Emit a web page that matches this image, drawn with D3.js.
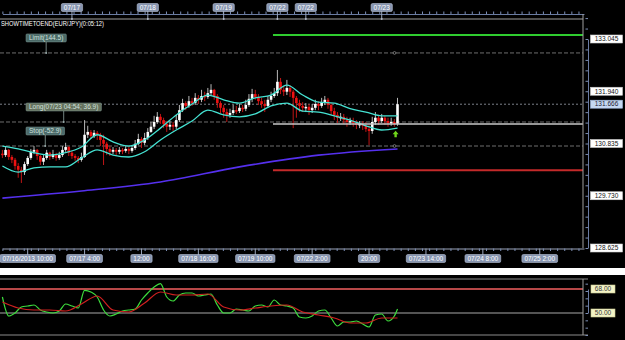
<!DOCTYPE html>
<html>
<head>
<meta charset="utf-8">
<style>
  html, body { margin: 0; padding: 0; background: #000; }
  svg { display: block; }
</style>
</head>
<body>
<div id="chart"></div>
<script src="https://cdn.jsdelivr.net/npm/d3@7"></script>
<script>
const w = 625;
const h = 340;

//EUR/JPY hourly bars, bar 0 is 07/16 early morning, last bar is 07/23 05:00
const firstOpen = 130.62;
const closes = [
  130.59, 130.70, 130.55, 130.49, 130.36, 130.28, 130.23, 130.40, 130.53, 130.66,
  130.70, 130.57, 130.45, 130.53, 130.64, 130.55, 130.61, 130.53, 130.59, 130.70,
  130.76, 130.64, 130.57, 130.53, 130.49, 130.55, 131.02, 131.08, 130.99, 131.06,
  131.02, 130.91, 130.83, 130.72, 130.66, 130.70, 130.66, 130.70, 130.68, 130.72,
  130.68, 130.74, 130.83, 130.93, 130.85, 130.95, 131.08, 131.19, 131.29, 131.40,
  131.33, 131.25, 131.19, 131.23, 131.19, 131.33, 131.54, 131.69, 131.63, 131.73,
  131.69, 131.80, 131.76, 131.84, 131.82, 131.90, 131.97, 131.84, 131.69, 131.59,
  131.50, 131.44, 131.48, 131.54, 131.52, 131.59, 131.57, 131.65, 131.78, 131.88,
  131.82, 131.73, 131.67, 131.63, 131.76, 131.84, 131.90, 132.14, 131.97, 131.93,
  132.01, 131.93, 131.80, 131.69, 131.63, 131.59, 131.61, 131.54, 131.59, 131.67,
  131.63, 131.71, 131.76, 131.65, 131.52, 131.44, 131.38, 131.40, 131.33, 131.29,
  131.31, 131.27, 131.23, 131.25, 131.21, 131.14, 131.10, 131.29, 131.38, 131.31,
  131.38, 131.31, 131.27, 131.29, 131.25, 131.666
];
const highs = [
  130.70, 130.76, 130.72, 130.59, 130.53, 130.42, 130.34, 130.45, 130.57, 130.72,
  130.78, 130.72, 130.59, 130.59, 130.70, 130.66, 130.70, 130.64, 130.66, 130.78,
  130.85, 130.78, 130.68, 130.61, 130.57, 130.64, 131.33, 131.21, 131.12, 131.12,
  131.10, 131.06, 131.02, 130.87, 130.78, 130.76, 130.74, 130.76, 130.74, 130.78,
  130.76, 130.80, 130.91, 131.04, 130.97, 131.06, 131.16, 131.29, 131.42, 131.50,
  131.46, 131.38, 131.31, 131.31, 131.29, 131.44, 131.65, 131.78, 131.73, 131.84,
  131.80, 131.90, 131.86, 131.97, 131.93, 132.01, 132.09, 131.99, 131.88, 131.73,
  131.65, 131.57, 131.57, 131.65, 131.63, 131.67, 131.65, 131.76, 131.88, 131.99,
  131.97, 131.88, 131.80, 131.76, 131.84, 131.93, 132.01, 132.39, 132.22, 132.05,
  132.18, 132.07, 131.97, 131.84, 131.76, 131.71, 131.69, 131.67, 131.67, 131.76,
  131.73, 131.80, 131.84, 131.80, 131.69, 131.59, 131.50, 131.48, 131.46, 131.40,
  131.38, 131.38, 131.33, 131.31, 131.31, 131.29, 131.23, 131.40, 131.50, 131.44,
  131.46, 131.42, 131.38, 131.38, 131.35, 131.80
];
const lows = [
  130.53, 130.55, 130.49, 130.42, 130.28, 130.11, 130.00, 130.17, 130.36, 130.49,
  130.61, 130.49, 130.38, 130.38, 130.49, 130.49, 130.51, 130.47, 130.49, 130.55,
  130.66, 130.57, 130.51, 130.47, 130.42, 130.45, 130.53, 130.95, 130.93, 130.95,
  130.91, 130.78, 130.38, 130.59, 130.57, 130.61, 130.59, 130.61, 130.61, 130.64,
  130.61, 130.64, 130.70, 130.80, 130.74, 130.80, 130.91, 131.06, 131.14, 131.25,
  131.25, 131.16, 131.08, 131.12, 131.10, 131.14, 131.29, 131.50, 131.54, 131.59,
  131.63, 131.65, 131.67, 131.71, 131.73, 131.78, 131.84, 131.76, 131.59, 131.48,
  131.38, 131.29, 131.38, 131.44, 131.46, 131.48, 131.50, 131.52, 131.61, 131.71,
  131.76, 131.65, 131.59, 131.50, 131.59, 131.71, 131.80, 131.84, 131.88, 131.84,
  131.86, 131.82, 131.16, 131.38, 131.50, 131.50, 131.50, 131.44, 131.48, 131.54,
  131.54, 131.59, 131.65, 131.57, 131.44, 131.33, 131.27, 131.31, 131.25, 131.19,
  131.23, 131.19, 131.14, 131.16, 131.12, 131.08, 130.80, 131.04, 131.23, 131.23,
  131.27, 131.23, 131.19, 131.21, 131.19, 131.21
];

//envelope bands, one value every 5 bars
const bandStep = 5;
const bandUpper = [130.78, 130.72, 130.64, 130.59, 130.64, 130.76, 131.02, 130.87, 130.78, 130.91, 131.16, 131.44, 131.67,
  131.86, 131.76, 131.69, 131.80, 131.86, 132.07, 131.86, 131.71, 131.69, 131.57, 131.50, 131.42, 131.42];
const bandLower = [130.36, 130.23, 130.32, 130.34, 130.34, 130.53, 130.70, 130.59, 130.55, 130.66, 130.91, 131.12, 131.31,
  131.54, 131.44, 131.40, 131.46, 131.63, 131.69, 131.52, 131.50, 131.42, 131.33, 131.21, 131.12, 131.16];

//slow moving average, one value every 25 bars
const maStep = 25;
const maValues = [129.68, 129.83, 130.02, 130.34, 130.59, 130.72];

//RSI panel
const rsiFastStep = 2;
const rsiFast = [
  62.0, 47.75, 50.0, 54.5, 55.25, 56.0, 52.25, 50.75, 50.0, 51.5,
  56.75, 55.25, 53.75, 67.0, 65.75, 62.0, 52.25, 47.75, 49.25, 51.5,
  52.25, 53.0, 59.75, 65.0, 69.5, 72.0, 62.0, 59.0, 63.5, 65.0,
  65.0, 62.75, 63.5, 64.25, 56.0, 50.0, 50.0, 53.0, 52.25, 51.5,
  55.25, 56.0, 54.5, 59.75, 56.0, 55.25, 53.75, 47.0, 46.25, 47.75,
  51.5, 52.25, 46.25, 40.25, 43.25, 43.25, 44.0, 41.75, 39.5, 48.5,
  49.25, 44.0, 47.75, 53.0
];
const rsiSlowStep = 5;
const rsiSlow = [58.25, 53.75, 52.25, 52.25, 51.5, 56.75, 62.75, 52.25, 50.75, 57.5, 65.75, 63.5, 63.5,
  64.25, 54.5, 52.25, 53.75, 55.25, 56.0, 50.75, 48.5, 46.25, 42.5, 42.5, 46.25, 46.25];
const rsiLevels = [68, 50];
const rsiLabels = ["68.00", "50.00"];

//axes
const priceTicks = [133.045, 131.94, 130.835, 129.73, 128.625];
const priceTickLabels = ["133.045", "131.940", "130.835", "129.730", "128.625"];
const lastPrice = 131.666;
const lastPriceLabel = "131.666";

const topTickBars = [22, 46, 70, 87, 96, 120];
const topTickLabels = ["07/17", "07/18", "07/19", "07/22", "07/22", "07/23"];
const bottomTickBars = [8, 26, 44, 62, 80, 98, 116, 134, 152, 170];
const bottomTickLabels = ["07/16/2013 10:00", "07/17 4:00", "12:00", "07/18 16:00", "07/19 10:00",
  "07/22 2:00", "20:00", "07/23 14:00", "07/24 8:00", "07/25 2:00"];

//open order
const orderStartBar = 85.6;
const takeProfit = 133.13;
const stopLoss = 130.27;
const openLevel = 131.25;
const tagTexts = ["Limit(144.5)", "Long(07/23 04:54; 36.9)", "Stop(-52.9)"];
const tagLevels = [132.75, 131.29, 130.782];

const title = "SHOWTIMETOEND(EUR/JPY)(0:05:12)";

const font = "'Liberation Sans', Arial, sans-serif";

//Handle SVG and d3
const createChart = () => {
  const svg = d3.select("#chart").append("svg").attr("width", w).attr("height", h);
  svg.append("rect").attr("width", w).attr("height", h).attr("fill", "#000");

  const plotRight = 583;
  const x = d3.scaleLinear().domain([0, 184]).range([2.4, 584]);
  const y = d3.scaleLinear().domain([128.625, 133.045]).range([248, 39]);
  const yRsi = d3.scaleLinear().domain([50, 68]).range([313, 289]);

  const lastBar = closes.length - 1;

  //small rounded label box, text centred on cx
  const boxLabel = (cx, cy, text, style) => {
    const g = svg.append("g");
    const rect = g.append("rect");
    const t = g
      .append("text")
      .attr("x", cx)
      .attr("y", cy)
      .attr("dy", "0.35em")
      .attr("text-anchor", "middle")
      .attr("font-family", font)
      .attr("font-size", style.size || 6.5)
      .attr("fill", style.color)
      .text(text);
    const bw = style.width || t.node().getComputedTextLength() + (style.pad || 5);
    rect
      .attr("x", cx - bw / 2)
      .attr("y", cy - 4)
      .attr("width", bw)
      .attr("height", 8)
      .attr("rx", style.rx === undefined ? 1.5 : style.rx)
      .attr("fill", style.fill)
      .attr("stroke", style.stroke || "none")
      .attr("stroke-width", 0.6);
    return bw;
  };

  //Top date axis
  const minorTicks = d3.range(0, 184, 2.25);
  svg
    .append("g")
    .attr("transform", "translate(0, 14)")
    .call(d3.axisTop(x).tickValues(minorTicks).tickSize(2.5).tickSizeOuter(0).tickFormat(""))
    .call((g) => g.select(".domain").attr("stroke", "#6a7ca3"))
    .call((g) => g.selectAll(".tick line").attr("stroke", "#7d8fb5"));
  svg.append("line").attr("x1", 0).attr("x2", plotRight).attr("y1", 19).attr("y2", 19)
    .attr("stroke", "#a0a0a0");
  topTickBars.forEach((b, k) => {
    svg.append("line").attr("x1", x(b)).attr("x2", x(b)).attr("y1", 11).attr("y2", 19)
      .attr("stroke", "#9aa6bd");
    svg.append("circle").attr("cx", x(b)).attr("cy", 19).attr("r", 1).attr("fill", "#b0b8c8");
    boxLabel(x(b), 7.5, topTickLabels[k], { fill: "#8795b0", stroke: "#b9c3d6", color: "#fff" });
  });

  svg
    .append("text")
    .attr("x", 1)
    .attr("y", 26)
    .attr("font-family", font)
    .attr("font-size", 7)
    .attr("fill", "#fff")
    .attr("textLength", 103)
    .attr("lengthAdjust", "spacingAndGlyphs")
    .text(title);

  //Order level lines
  const dashed = [tagLevels[0], lastPrice, tagLevels[1], tagLevels[2]];
  dashed.forEach((lv, k) => {
    svg.append("line").attr("x1", 0).attr("x2", plotRight).attr("y1", y(lv)).attr("y2", y(lv))
      .attr("stroke", k === 1 ? "#8a8f9a" : "#7a7a7a")
      .attr("stroke-width", 0.9)
      .attr("stroke-dasharray", k === 1 ? "2,2" : "4,2");
  });

  const plot = svg.append("g");
  svg.append("clipPath").attr("id", "clip").append("rect")
    .attr("x", 0).attr("y", 19).attr("width", plotRight).attr("height", 229);
  plot.attr("clip-path", "url(#clip)");

  //Moving average
  plot
    .append("path")
    .datum(maValues)
    .attr("fill", "none")
    .attr("stroke", "#5530ee")
    .attr("stroke-width", 1.6)
    .attr("d", d3.line().x((d, k) => x(k * maStep)).y((d) => y(d)).curve(d3.curveMonotoneX));

  //Candles
  const bars = closes.map((c, i) => ({
    i,
    o: i === 0 ? firstOpen : closes[i - 1],
    c,
    hi: highs[i],
    lo: lows[i],
  }));
  const up = (d) => d.c >= d.o;

  plot
    .selectAll(".wick")
    .data(bars)
    .enter()
    .append("line")
    .attr("class", "wick")
    .attr("x1", (d) => x(d.i))
    .attr("x2", (d) => x(d.i))
    .attr("y1", (d) => y(d.hi))
    .attr("y2", (d) => y(d.lo))
    .attr("stroke", (d) => (up(d) ? "#b8b8b8" : "#c01515"))
    .attr("stroke-width", 1);

  plot
    .selectAll(".body")
    .data(bars)
    .enter()
    .append("rect")
    .attr("class", "body")
    .attr("x", (d) => x(d.i) - 1.3)
    .attr("y", (d) => y(Math.max(d.o, d.c)))
    .attr("width", 2.6)
    .attr("height", (d) => Math.max(1.5, Math.abs(y(d.o) - y(d.c))))
    .attr("fill", (d) => (up(d) ? "#ffffff" : "#ee1111"));

  //Envelope bands
  const bandLine = d3.line().x((d, k) => x(k * bandStep)).y((d) => y(d)).curve(d3.curveMonotoneX);
  [bandUpper, bandLower].forEach((band) => {
    plot.append("path").datum(band).attr("fill", "none").attr("stroke", "#45e2d2")
      .attr("stroke-width", 1.3).attr("d", bandLine);
  });

  //Take profit / stop loss / open lines
  const ox = x(orderStartBar);
  svg.append("line").attr("x1", ox).attr("x2", plotRight).attr("y1", y(takeProfit)).attr("y2", y(takeProfit))
    .attr("stroke", "#2fcc2f").attr("stroke-width", 1.8);
  svg.append("line").attr("x1", ox).attr("x2", plotRight).attr("y1", y(stopLoss)).attr("y2", y(stopLoss))
    .attr("stroke", "#c42a2a").attr("stroke-width", 2);
  svg.append("line").attr("x1", ox).attr("x2", plotRight).attr("y1", y(openLevel)).attr("y2", y(openLevel))
    .attr("stroke", "#c8c8c8").attr("stroke-width", 1.5);

  [tagLevels[0], tagLevels[2]].forEach((lv) => {
    svg.append("circle").attr("cx", x(lastBar) - 3).attr("cy", y(lv)).attr("r", 1.4)
      .attr("fill", "#000").attr("stroke", "#999").attr("stroke-width", 0.7);
  });

  //Entry arrow
  const ax = x(lastBar - 0.6);
  const ay = y(lows[lastBar]) + 5;
  svg.append("path")
    .attr("d", `M${ax - 3},${ay + 3.5} L${ax},${ay} L${ax + 3},${ay + 3.5} L${ax + 1.2},${ay + 3.5} L${ax + 1.2},${ay + 6.5} L${ax - 1.2},${ay + 6.5} L${ax - 1.2},${ay + 3.5} Z`)
    .attr("fill", "#6fd41a");

  //Order tags on the left
  const tagFills = ["#4b6a67", "#66725f", "#4b6a6a"];
  tagTexts.forEach((t, k) => {
    const lineY = y(tagLevels[k]);
    const cy = lineY - 15;
    const g = svg.append("g");
    const rect = g.append("rect");
    const txt = g.append("text").attr("x", 29).attr("y", cy).attr("dy", "0.35em")
      .attr("font-family", font).attr("font-size", 6.5).attr("fill", "#cfe0dc").text(t);
    const bw = txt.node().getComputedTextLength() + 6;
    rect.attr("x", 26).attr("y", cy - 4).attr("width", bw).attr("height", 8).attr("rx", 1)
      .attr("fill", tagFills[k]).attr("stroke", "#7f9a96").attr("stroke-width", 0.5);
    g.append("line").attr("x1", 26 + bw / 2).attr("x2", 26 + bw / 2).attr("y1", cy + 4).attr("y2", lineY)
      .attr("stroke", "#8fa3a0").attr("stroke-width", 0.8);
    g.append("circle").attr("cx", 26 + bw / 2).attr("cy", lineY).attr("r", 1).attr("fill", "#9aa");
  });

  //Right price axis
  svg.append("line").attr("x1", plotRight).attr("x2", plotRight).attr("y1", 14).attr("y2", 248)
    .attr("stroke", "#a0a0a0");
  svg
    .append("g")
    .attr("transform", "translate(588, 0)")
    .call(d3.axisLeft(y).tickValues(d3.range(128.625, 133.5, 0.221)).tickSize(2.5).tickSizeOuter(0).tickFormat(""))
    .call((g) => g.select(".domain").attr("stroke", "#6a7ca3"))
    .call((g) => g.selectAll(".tick line").attr("stroke", "#7d8fb5"));

  priceTicks.forEach((p, k) => {
    boxLabel(606.5, y(p), priceTickLabels[k], { fill: "#fff", stroke: "#ccc", color: "#111", width: 32, rx: 0 });
  });
  boxLabel(606.5, y(lastPrice), lastPriceLabel, { fill: "#c5d8f2", stroke: "#9fb6da", color: "#223", width: 32, rx: 0 });

  //Bottom time axis
  svg
    .append("g")
    .attr("transform", "translate(0, 248.5)")
    .call(d3.axisBottom(x).tickValues(minorTicks).tickSize(2.5).tickSizeOuter(0).tickFormat(""))
    .call((g) => g.select(".domain").attr("stroke", "#9aa3b8"))
    .call((g) => g.selectAll(".tick line").attr("stroke", "#7d8fb5"));
  bottomTickBars.forEach((b, k) => {
    svg.append("line").attr("x1", x(b)).attr("x2", x(b)).attr("y1", 248.5).attr("y2", 255)
      .attr("stroke", "#9aa6bd");
    boxLabel(x(b), 258.5, bottomTickLabels[k], { fill: "#8795b0", stroke: "#b9c3d6", color: "#fff" });
  });

  //Separator between panels
  svg.append("rect").attr("x", 0).attr("y", 268).attr("width", w).attr("height", 7).attr("fill", "#fff");

  //RSI panel
  [279, 335].forEach((yy) => {
    svg.append("line").attr("x1", 0).attr("x2", 588).attr("y1", yy).attr("y2", yy).attr("stroke", "#8c8c8c");
  });
  svg.append("line").attr("x1", 0).attr("x2", plotRight).attr("y1", yRsi(rsiLevels[0])).attr("y2", yRsi(rsiLevels[0]))
    .attr("stroke", "#b84848").attr("stroke-width", 1.8);
  svg.append("line").attr("x1", 0).attr("x2", plotRight).attr("y1", yRsi(rsiLevels[1])).attr("y2", yRsi(rsiLevels[1]))
    .attr("stroke", "#a8a8a8").attr("stroke-width", 1);
  svg.append("line").attr("x1", plotRight).attr("x2", plotRight).attr("y1", 279).attr("y2", 335)
    .attr("stroke", "#a0a0a0");
  svg
    .append("g")
    .attr("transform", "translate(588, 0)")
    .call(d3.axisLeft(yRsi).tickValues(d3.range(33.5, 76, 5.5)).tickSize(2.5).tickSizeOuter(0).tickFormat(""))
    .call((g) => g.select(".domain").attr("stroke", "#6a7ca3"))
    .call((g) => g.selectAll(".tick line").attr("stroke", "#7d8fb5"));

  const rsiPanel = svg.append("g");
  rsiPanel
    .append("path")
    .datum(rsiFast)
    .attr("fill", "none")
    .attr("stroke", "#3ddc3d")
    .attr("stroke-width", 1.2)
    .attr("d", d3.line().x((d, k) => x(Math.min(k * rsiFastStep, lastBar))).y((d) => yRsi(d)).curve(d3.curveMonotoneX));
  rsiPanel
    .append("path")
    .datum(rsiSlow)
    .attr("fill", "none")
    .attr("stroke", "#d02020")
    .attr("stroke-width", 1.2)
    .attr("d", d3.line().x((d, k) => x(k * rsiSlowStep)).y((d) => yRsi(d)).curve(d3.curveMonotoneX));

  rsiLevels.forEach((lv, k) => {
    boxLabel(603, yRsi(lv), rsiLabels[k], { fill: "#f3f3c6", stroke: "#c9c98f", color: "#333", width: 24, rx: 0 });
  });
};

createChart();
</script>
</body>
</html>
